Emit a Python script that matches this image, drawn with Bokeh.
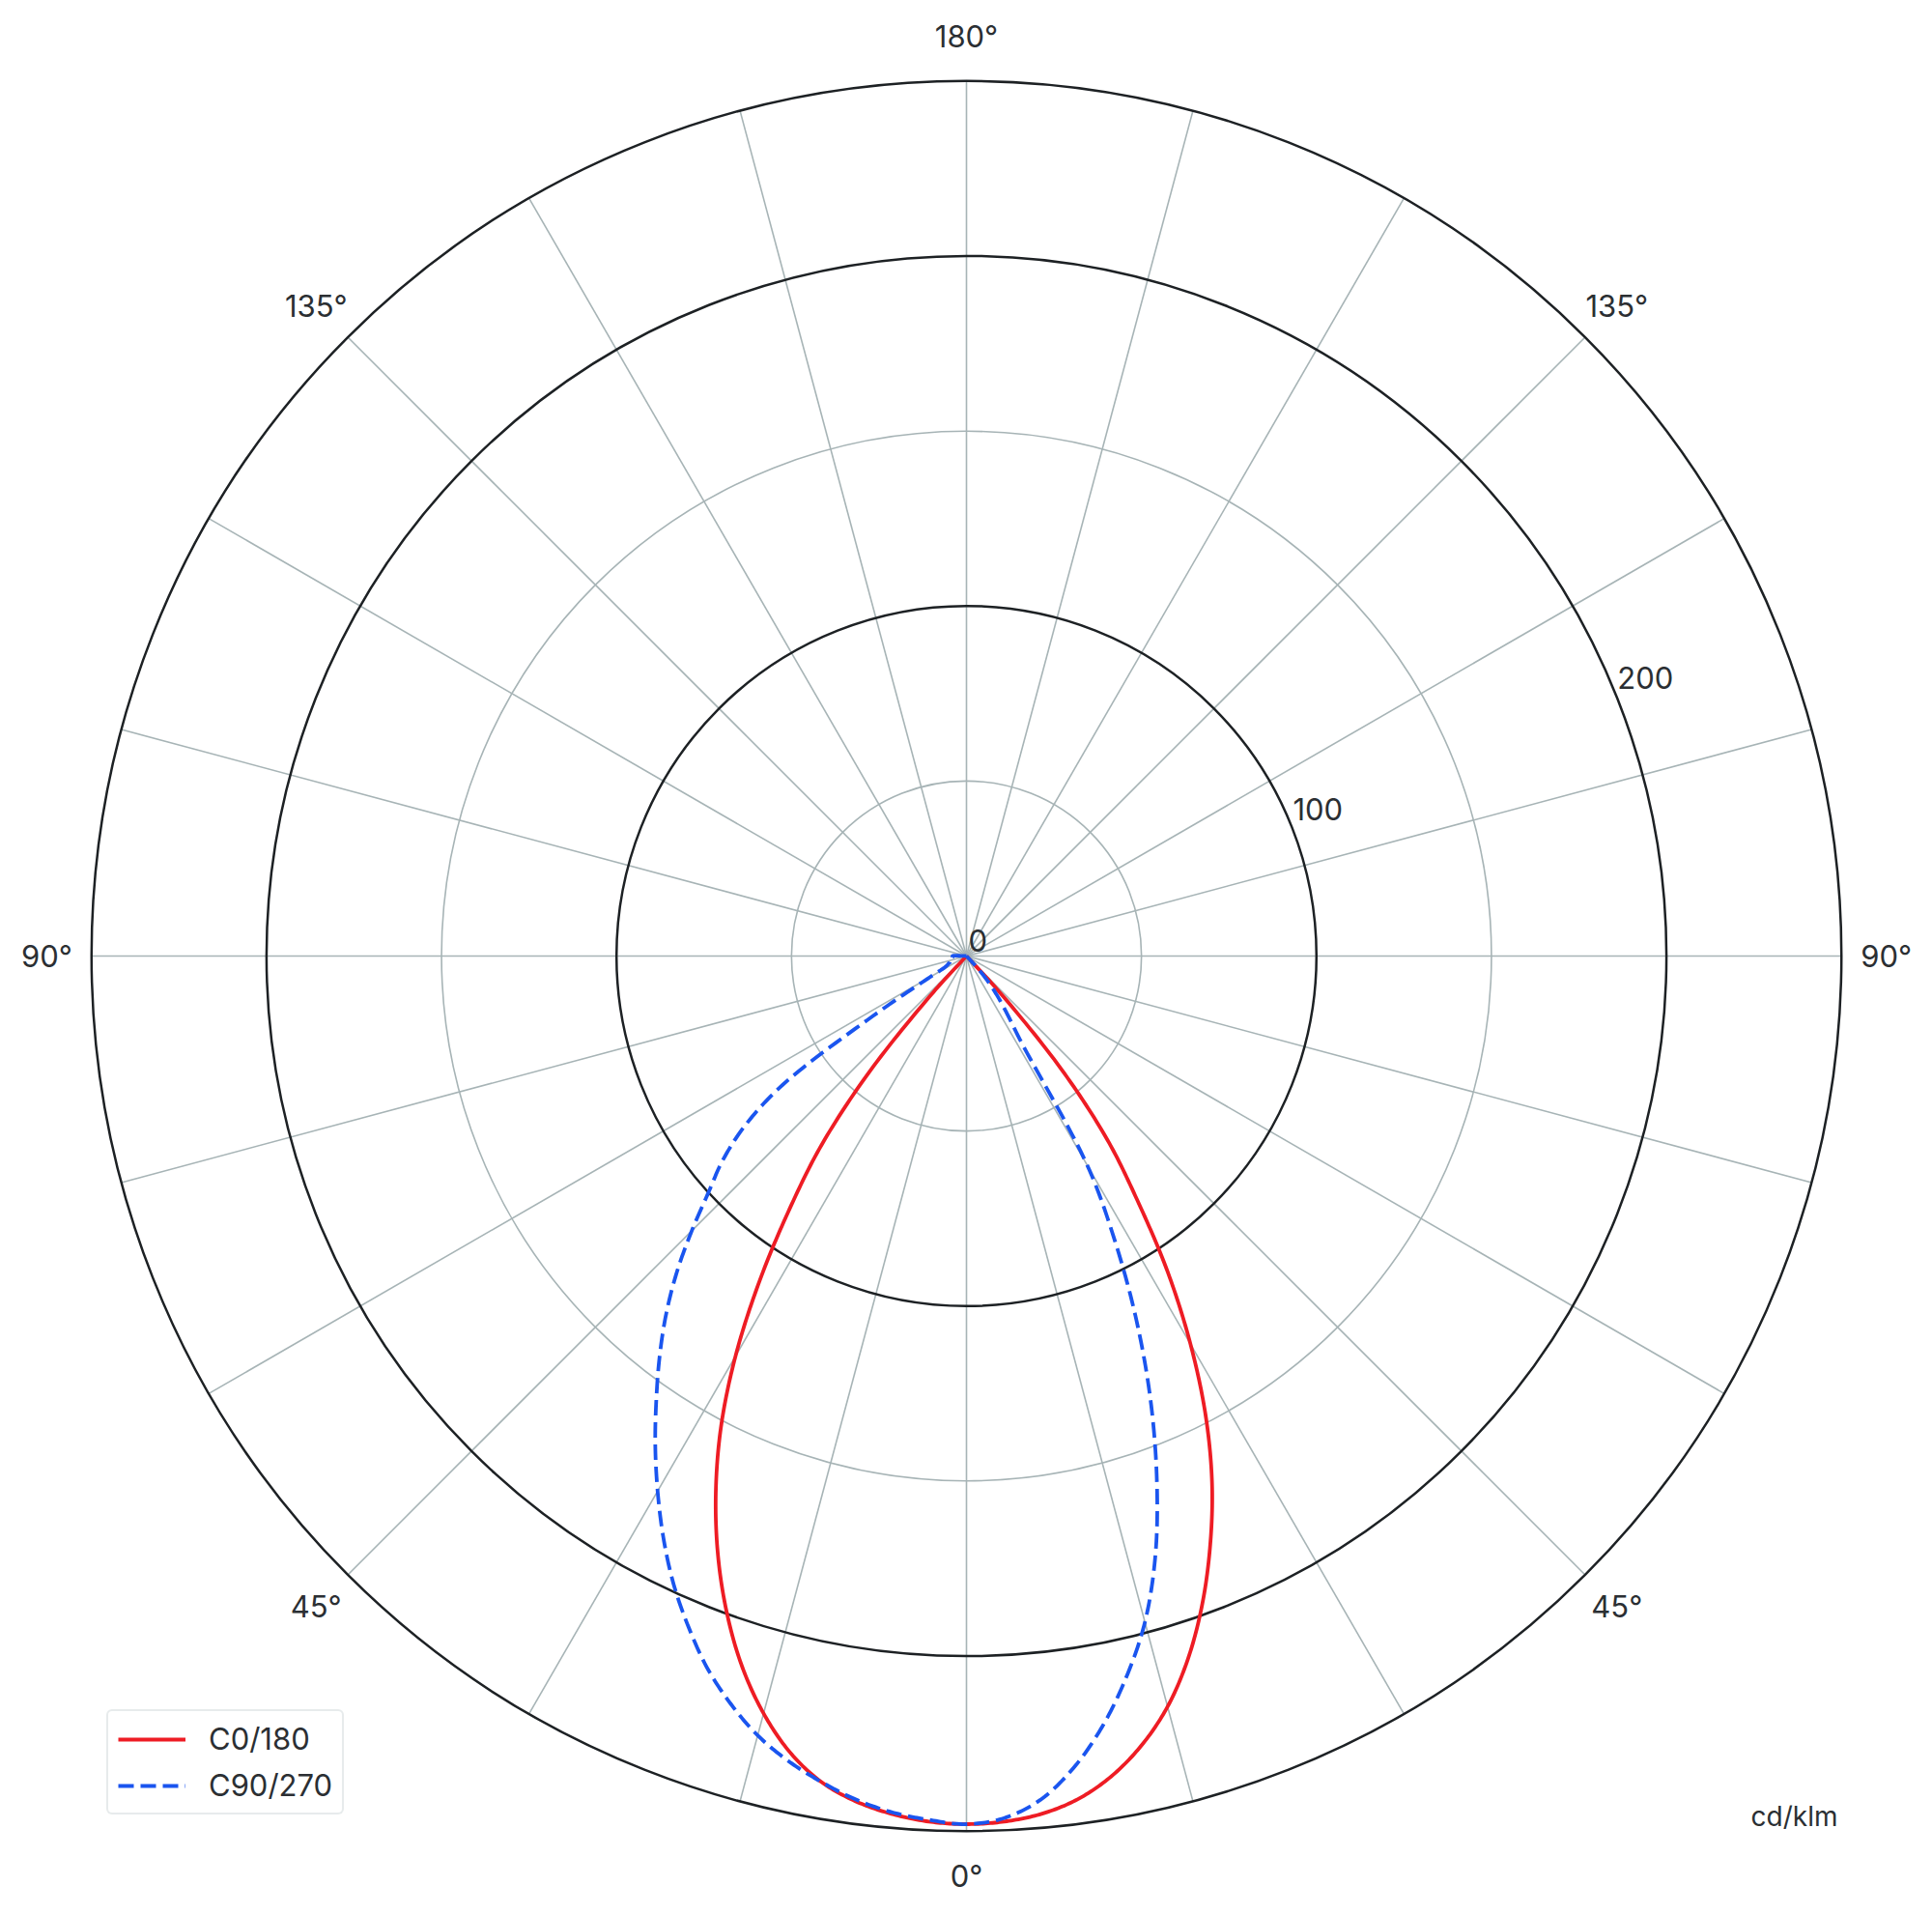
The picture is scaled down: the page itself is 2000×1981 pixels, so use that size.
import numpy as np
from bokeh.plotting import figure
from bokeh.models import Range1d, Legend, LegendItem, Label
from bokeh.embed import file_html
from bokeh.resources import INLINE
from bokeh.core.properties import value

# ---------------- data (cd/klm) ----------------
gamma = [0, 2.5, 5, 7.5, 10, 12.5, 15, 17.5, 20, 22.5, 25, 27.5, 30, 32.5, 35, 37.5,
         40, 42.5, 45, 47.5, 50, 52.5, 55, 57.5, 60, 62.5, 65, 67.5, 70, 72.5, 75,
         77.5, 80, 82.5, 85, 87.5, 90, 180]

c0 = [248, 247.5, 246, 243, 238, 231, 222, 210.5, 197, 182, 166, 148, 128, 107, 85, 66,
      42, 14, 0, 0, 0, 0, 0, 0, 0, 0, 0, 0, 0, 0, 0,
      0, 0, 0, 0, 0, 0, 0]
c180 = [248, 247.5, 246, 243.5, 239.5, 233, 224, 213, 200, 185.5, 169.5, 152, 132, 110, 88, 68,
        43, 14, 0, 0, 0, 0, 0, 0, 0, 0, 0, 0, 0, 0, 0,
        0, 0, 0, 0, 0, 0, 0]
c90 = [248, 246.5, 242, 234, 223.5, 211, 197, 179.5, 159, 137.5, 115, 92, 69, 29, 20.5, 15,
       10, 5, 0, 0, 0, 0, 0, 0, 0, 0, 0, 0, 0, 0, 0,
       0, 0, 0, 0, 0, 0, 0]
c270 = [248, 247, 245.5, 243, 239.5, 235.5, 230.5, 224, 216.5, 207.5, 198, 187.5, 176.5, 165.5, 154.5, 144,
        133.5, 122.5, 111, 100, 91, 80, 64, 30, 12, 7, 6, 5.5, 5, 5, 5,
        5, 4.5, 4.5, 4, 4, 4, 0]

series_labels = ["C0/180", "C90/270"]
ring_values = [50, 100, 150, 200, 250]
ring_major = [False, True, False, True, True]
spoke_step = 15
angle_label_values = [0, 45, 90, 135, 180, 45, 90, 135]
angle_label_sides = [1, 1, 1, 1, 1, -1, -1, -1]
radial_tick_values = [0, 100, 200]
unit_label = "cd/klm"

# ---------------- layout ----------------
W, H = 1984, 1965
S = 3.623            # px per cd/klm
CX, CY = 1000, 989   # centre in figure pixels (from top-left)
R_MAX = max(ring_values)
R_LAB = 262.8
FONT = "Inter"
TXT = "#2b2f33"
GREY = "#a7b4b6"
DARK = "#1d2124"
RED = "#ee1c24"
BLUE = "#1a55ef"

p = figure(width=W, height=H, output_backend="svg", toolbar_location=None,
           x_range=Range1d(-CX / S, (W - CX) / S),
           y_range=Range1d(-(H - CY) / S, CY / S),
           min_border=0, min_border_left=0, min_border_right=0,
           min_border_top=0, min_border_bottom=0)
p.axis.visible = False
p.grid.visible = False
p.outline_line_color = None
p.background_fill_color = "white"
p.border_fill_color = "white"

# spokes
sp = np.deg2rad(np.arange(0, 360, spoke_step))
p.segment(x0=0, y0=0, x1=R_MAX * np.sin(sp), y1=R_MAX * np.cos(sp),
          line_color=GREY, line_width=1.6)

# rings
for rv, major in zip(ring_values, ring_major):
    p.circle(x=0, y=0, radius=rv, fill_color=None,
             line_color=DARK if major else GREY,
             line_width=2.5 if major else 1.6)


def polar_points(left, right):
    g = np.deg2rad(np.array(gamma, dtype=float))
    l = np.array(left, dtype=float)
    r = np.array(right, dtype=float)
    xl, yl = -l * np.sin(g), -l * np.cos(g)
    xr_, yr_ = r * np.sin(g), -r * np.cos(g)
    xs = np.concatenate([xl[::-1], xr_[1:]])
    ys = np.concatenate([yl[::-1], yr_[1:]])
    pts = np.column_stack([xs, ys])
    keep = [0]
    for i in range(1, len(pts)):
        if np.hypot(*(pts[i] - pts[keep[-1]])) > 1e-6:
            keep.append(i)
    return pts[keep]


def smooth_path(pts, n=16):
    """Centripetal Catmull-Rom rendering through the measured points."""
    P = np.vstack([2 * pts[0] - pts[1], pts, 2 * pts[-1] - pts[-2]])
    out = []
    for i in range(1, len(P) - 2):
        p0, p1, p2, p3 = P[i - 1], P[i], P[i + 1], P[i + 2]
        t0 = 0.0
        t1 = t0 + max(np.hypot(*(p1 - p0)), 1e-9) ** 0.5
        t2 = t1 + max(np.hypot(*(p2 - p1)), 1e-9) ** 0.5
        t3 = t2 + max(np.hypot(*(p3 - p2)), 1e-9) ** 0.5
        for t in np.linspace(t1, t2, n, endpoint=False):
            a1 = (t1 - t) / (t1 - t0) * p0 + (t - t0) / (t1 - t0) * p1
            a2 = (t2 - t) / (t2 - t1) * p1 + (t - t1) / (t2 - t1) * p2
            a3 = (t3 - t) / (t3 - t2) * p2 + (t - t2) / (t3 - t2) * p3
            b1 = (t2 - t) / (t2 - t0) * a1 + (t - t0) / (t2 - t0) * a2
            b2 = (t3 - t) / (t3 - t1) * a2 + (t - t1) / (t3 - t1) * a3
            out.append((t2 - t) / (t2 - t1) * b1 + (t - t1) / (t2 - t1) * b2)
    out.append(P[-2])
    out = np.array(out)
    return out[:, 0], out[:, 1]


xr, yr = smooth_path(polar_points(c180, c0))
xb, yb = smooth_path(polar_points(c270, c90))
red = p.line(xr, yr, line_join="round", line_color=RED, line_width=3.8)
blue = p.line(xb, yb, line_join="round", line_color=BLUE, line_width=3.8, line_dash="16 7")

# angle labels
al = np.deg2rad(np.array(angle_label_values, dtype=float))
sides = np.array(angle_label_sides, dtype=float)
p.text(x=sides * R_LAB * np.sin(al), y=-R_LAB * np.cos(al),
       text=[f"{v}°" for v in angle_label_values],
       text_font=value(FONT), text_font_size="31px", text_color=TXT,
       text_align="center", text_baseline="middle")

# radial tick labels (along a ray 22° above horizontal on the right)
ta = np.deg2rad(112.0)
rt = np.array(radial_tick_values, dtype=float)
p.text(x=rt * np.sin(ta), y=-rt * np.cos(ta), text=[str(v) for v in radial_tick_values],
       text_font=value(FONT), text_font_size="31px", text_color=TXT,
       text_align="left", text_baseline="middle", x_offset=2, y_offset=-16.5)

# unit label
p.add_layout(Label(x=1857, y=85.5, x_units="screen", y_units="screen", text=unit_label,
                   text_font=FONT, text_font_size="28px", text_color=TXT,
                   text_align="center", text_baseline="middle"))

legend = Legend(items=[LegendItem(label=series_labels[0], renderers=[red]),
                       LegendItem(label=series_labels[1], renderers=[blue])],
                location=(110, 87), orientation="vertical",
                label_text_font=FONT, label_text_font_size="31px", label_text_color=TXT,
                glyph_width=70, glyph_height=36, label_height=36, label_standoff=24,
                spacing=11, padding=10, margin=0,
                border_line_color="#cfd8da", border_line_width=2,
                background_fill_color="white", background_fill_alpha=1.0)
if "border_radius" in Legend.properties():
    legend.border_radius = 6
p.add_layout(legend)

open("out.html", "w").write(file_html(p, INLINE))
